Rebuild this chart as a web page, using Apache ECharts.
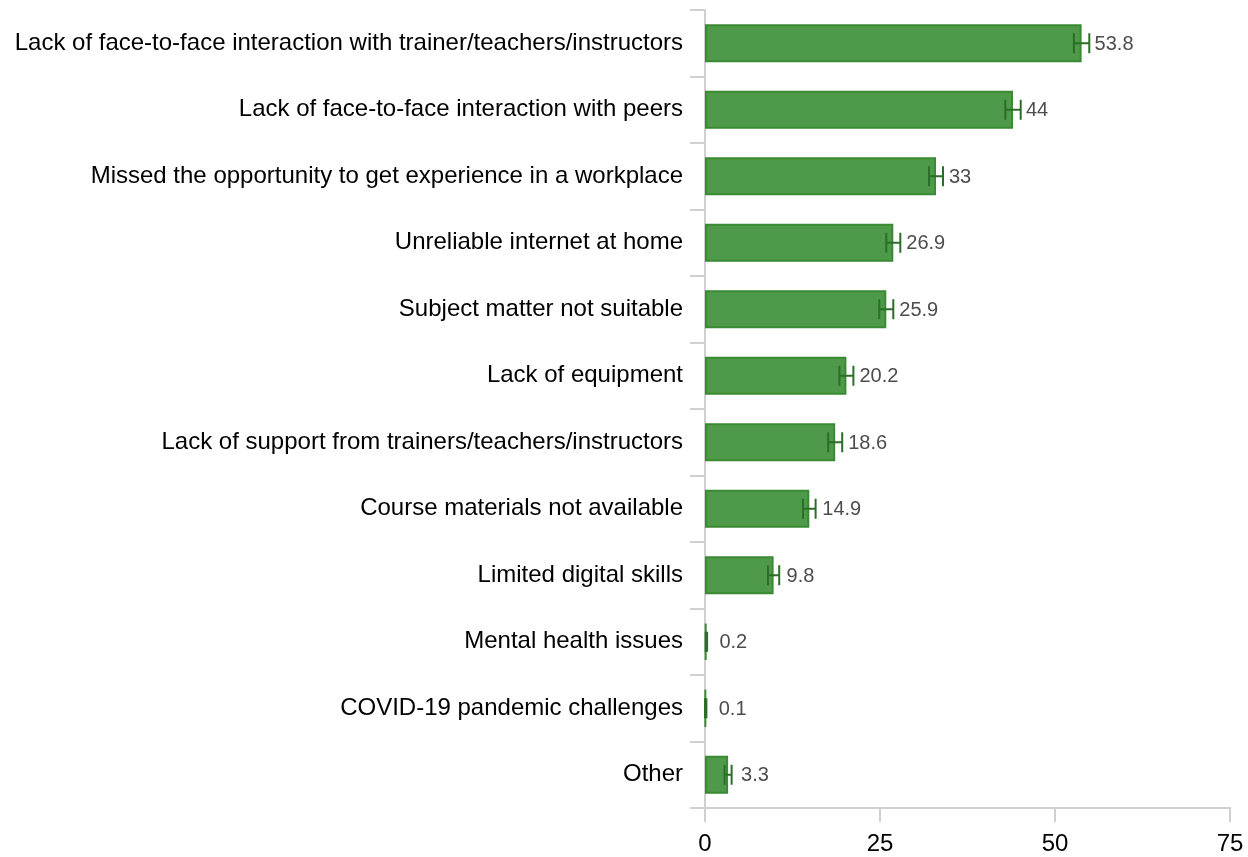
<!DOCTYPE html>
<html>
<head>
<meta charset="utf-8">
<script src="https://cdn.jsdelivr.net/npm/echarts@6/dist/echarts.min.js"></script>
<style>
  html, body { margin: 0; padding: 0; background: #fff; }
  #chart { width: 1248px; height: 857px; }
</style>
</head>
<body>
<div id="chart"></div>
<script>
// categories from top to bottom
const categories = [
  'Lack of face-to-face interaction with trainer/teachers/instructors',
  'Lack of face-to-face interaction with peers',
  'Missed the opportunity to get experience in a workplace',
  'Unreliable internet at home',
  'Subject matter not suitable',
  'Lack of equipment',
  'Lack of support from trainers/teachers/instructors',
  'Course materials not available',
  'Limited digital skills',
  'Mental health issues',
  'COVID-19 pandemic challenges',
  'Other'
];
const values = [53.8, 44, 33, 26.9, 25.9, 20.2, 18.6, 14.9, 9.8, 0.2, 0.1, 3.3];
const errors = [1.1, 1.1, 1.0, 1.0, 1.0, 1.0, 1.0, 0.9, 0.8, 0.1, 0.1, 0.5];
const xTicks = [0, 25, 50, 75];

const FONT = 'Arial, "Liberation Sans", sans-serif';
const chart = echarts.init(document.getElementById('chart'));

// error bar + value label drawn together
const errorData = values.map((v, i) => [i, v - errors[i], v + errors[i], v]);

const renderError = (params, api) => {
  const idx = api.value(0);
  const lo = api.coord([api.value(1), idx]);
  const hi = api.coord([api.value(2), idx]);
  const end = api.coord([api.value(3), idx]);
  const half = 10;
  const style = { stroke: '#2b6e28', lineWidth: 2 };
  return {
    type: 'group',
    children: [
      { type: 'line', shape: { x1: lo[0], y1: lo[1], x2: hi[0], y2: hi[1] }, style },
      { type: 'line', shape: { x1: lo[0], y1: lo[1] - half, x2: lo[0], y2: lo[1] + half }, style },
      { type: 'line', shape: { x1: hi[0], y1: hi[1] - half, x2: hi[0], y2: hi[1] + half }, style },
      {
        type: 'text',
        style: {
          text: String(api.value(3)),
          x: end[0] + 13, y: end[1] + 1,
          verticalAlign: 'middle', align: 'left',
          fill: '#4d4d4d', fontSize: 20, fontFamily: FONT
        }
      }
    ]
  };
};

chart.setOption({
  animation: false,
  textStyle: { fontFamily: FONT },
  grid: { left: 705, right: 18, top: 10, bottom: 49, containLabel: false },
  xAxis: {
    type: 'value',
    min: 0, max: 75, interval: 25,
    axisLine: { show: true, lineStyle: { color: '#d0d0d0', width: 2 } },
    axisTick: { show: true, length: 14, lineStyle: { color: '#d0d0d0', width: 2 } },
    axisLabel: { color: '#000', fontSize: 24, margin: 24, fontFamily: FONT,
      formatter: (v) => xTicks.includes(v) ? String(v) : '' },
    splitLine: { show: false }
  },
  yAxis: {
    type: 'category',
    data: categories,
    inverse: true,
    axisLine: { show: true, lineStyle: { color: '#d0d0d0', width: 2 } },
    axisTick: { show: true, length: 15, lineStyle: { color: '#d0d0d0', width: 2 } },
    axisLabel: { color: '#000', fontSize: 24, margin: 22, fontFamily: FONT }
  },
  series: [
    {
      type: 'bar',
      data: values,
      barWidth: 38,
      itemStyle: { color: '#4f9a4a', borderColor: '#3a8a33', borderWidth: 2 }
    },
    {
      type: 'custom',
      renderItem: renderError,
      data: errorData,
      encode: { x: [1, 2], y: 0 },
      z: 5
    }
  ]
});
</script>
</body>
</html>
